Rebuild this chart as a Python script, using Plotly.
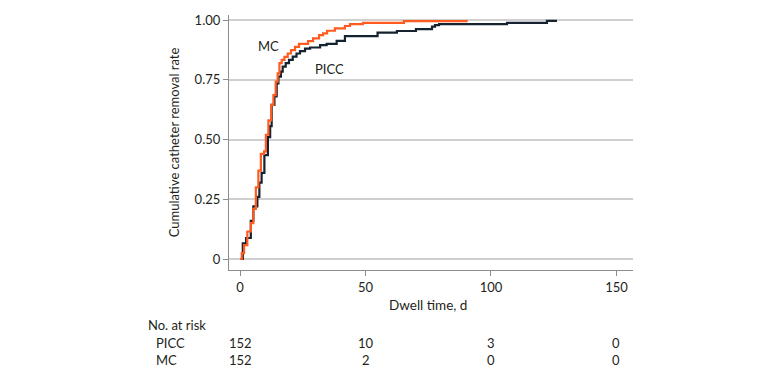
import plotly.graph_objects as go

# Kaplan-Meier style cumulative removal (step) data
mc_days = [0, 0.7, 1.6, 2.9, 4.3, 5.3, 6.3, 7.3, 8.3, 9.6, 10.3, 11.3, 12.4, 13.3, 14.2,
           15.0, 15.7, 16.6, 17.7, 19.0, 20.3, 21.9, 23.5, 27.1, 29.1, 31.5, 33.1, 34.7,
           37.8, 41.8, 43.8, 49.0, 65.3, 90.7]
mc_vals = [0, 0.025, 0.058, 0.115, 0.15, 0.21, 0.30, 0.37, 0.44, 0.45, 0.52, 0.58, 0.645,
           0.686, 0.742, 0.777, 0.82, 0.833, 0.846, 0.86, 0.874, 0.888, 0.90, 0.912, 0.923,
           0.937, 0.944, 0.955, 0.965, 0.975, 0.983, 0.988, 0.995, 0.995]

picc_days = [0, 1.1, 2.4, 4.3, 5.3, 6.9, 7.7, 8.6, 9.7, 11.1, 12.0, 12.6, 13.7, 14.6, 15.3,
             16.3, 17.0, 18.2, 19.5, 21.0, 22.5, 23.9, 25.9, 27.9, 31.9, 34.5, 38.5, 41.8,
             54.8, 62.5, 70.1, 76.5, 77.7, 79.3, 106.4, 122.3, 126.3]
picc_vals = [0, 0.066, 0.088, 0.16, 0.22, 0.26, 0.32, 0.36, 0.435, 0.51, 0.556, 0.645, 0.68,
             0.735, 0.763, 0.784, 0.805, 0.82, 0.833, 0.847, 0.86, 0.87, 0.88, 0.885, 0.895,
             0.90, 0.913, 0.933, 0.947, 0.954, 0.962, 0.972, 0.979, 0.983, 0.988, 0.996, 0.996]

x_ticks = [0, 50, 100, 150]
y_ticks = [0, 0.25, 0.5, 0.75, 1.0]
y_tick_labels = ["0", "0.25", "0.50", "0.75", "1.00"]

risk_groups = ["PICC", "MC"]
risk_picc = [152, 10, 3, 0]
risk_mc = [152, 2, 0, 0]

FONT = "Lato"
TXT = "#231f20"
ORANGE = "#FF5A1F"
NAVY = "#14232f"

# page offset of 8px (body margin) compensated in margins
L, T, R, B = 221, 7, 155, 116
PH = 378 - T - B  # plot height in px
PW = 780 - L - R


def py(page_y):
    """paper y coordinate for a page pixel row"""
    return (378 - B + 8 - page_y) / PH


def px(page_x):
    return (page_x - 8 - L) / PW


fig = go.Figure()
fig.add_trace(go.Scatter(x=picc_days, y=picc_vals, mode="lines", line_shape="hv",
                         line=dict(color=NAVY, width=2.2), name="PICC", showlegend=False))
fig.add_trace(go.Scatter(x=mc_days, y=mc_vals, mode="lines", line_shape="hv",
                         line=dict(color=ORANGE, width=2.2), name="MC", showlegend=False))

fig.update_layout(
    width=780, height=378,
    margin=dict(l=L, r=R, t=T, b=B, autoexpand=False),
    plot_bgcolor="white", paper_bgcolor="white",
    font=dict(family=FONT, size=13, color=TXT),
    xaxis=dict(range=[-4.4, 156.6], tickvals=x_ticks, showgrid=False, zeroline=False,
               showline=True, linecolor="#8c8c8c", linewidth=1.2, ticks="outside",
               ticklen=5, tickcolor="#8c8c8c", tickfont=dict(size=13, color=TXT),
               automargin=False),
    yaxis=dict(range=[-0.046, 1.021], tickvals=y_ticks, ticktext=y_tick_labels,
               showgrid=True, gridcolor="#cfcfcf", gridwidth=1.5, zeroline=False,
               showline=True, linecolor="#8c8c8c", linewidth=1.2, ticks="outside",
               ticklen=5, tickcolor="#8c8c8c", tickfont=dict(size=13, color=TXT),
               automargin=False,
               title=dict(text="Cumulative catheter removal rate", font=dict(size=13, color=TXT),
                          standoff=12)),
)

ann = []
ann.append(dict(x=11.2, y=0.891, xref="x", yref="y", text="MC", showarrow=False,
                font=dict(size=13, color=TXT)))
ann.append(dict(x=35.7, y=0.797, xref="x", yref="y", text="PICC", showarrow=False,
                font=dict(size=13, color=TXT)))
ann.append(dict(x=px(428), y=py(305), xref="paper", yref="paper", text="Dwell time, d",
                showarrow=False, xanchor="center", yanchor="middle",
                font=dict(size=13.5, color=TXT)))
ann.append(dict(x=px(146), y=py(325), xref="paper", yref="paper", text="No. at risk",
                showarrow=False, xanchor="left", yanchor="middle", font=dict(size=13, color=TXT)))
for lab, yy in zip(risk_groups, [343, 360]):
    ann.append(dict(x=px(154), y=py(yy), xref="paper", yref="paper", text=lab,
                    showarrow=False, xanchor="left", yanchor="middle",
                    font=dict(size=13, color=TXT)))
for xv, n in zip(x_ticks, risk_picc):
    ann.append(dict(x=xv, y=py(343), xref="x", yref="paper", text=str(n), showarrow=False,
                    xanchor="center", yanchor="middle", font=dict(size=13, color=TXT)))
for xv, n in zip(x_ticks, risk_mc):
    ann.append(dict(x=xv, y=py(360), xref="x", yref="paper", text=str(n), showarrow=False,
                    xanchor="center", yanchor="middle", font=dict(size=13, color=TXT)))
fig.update_layout(annotations=ann)

fig.write_html("out.html")
